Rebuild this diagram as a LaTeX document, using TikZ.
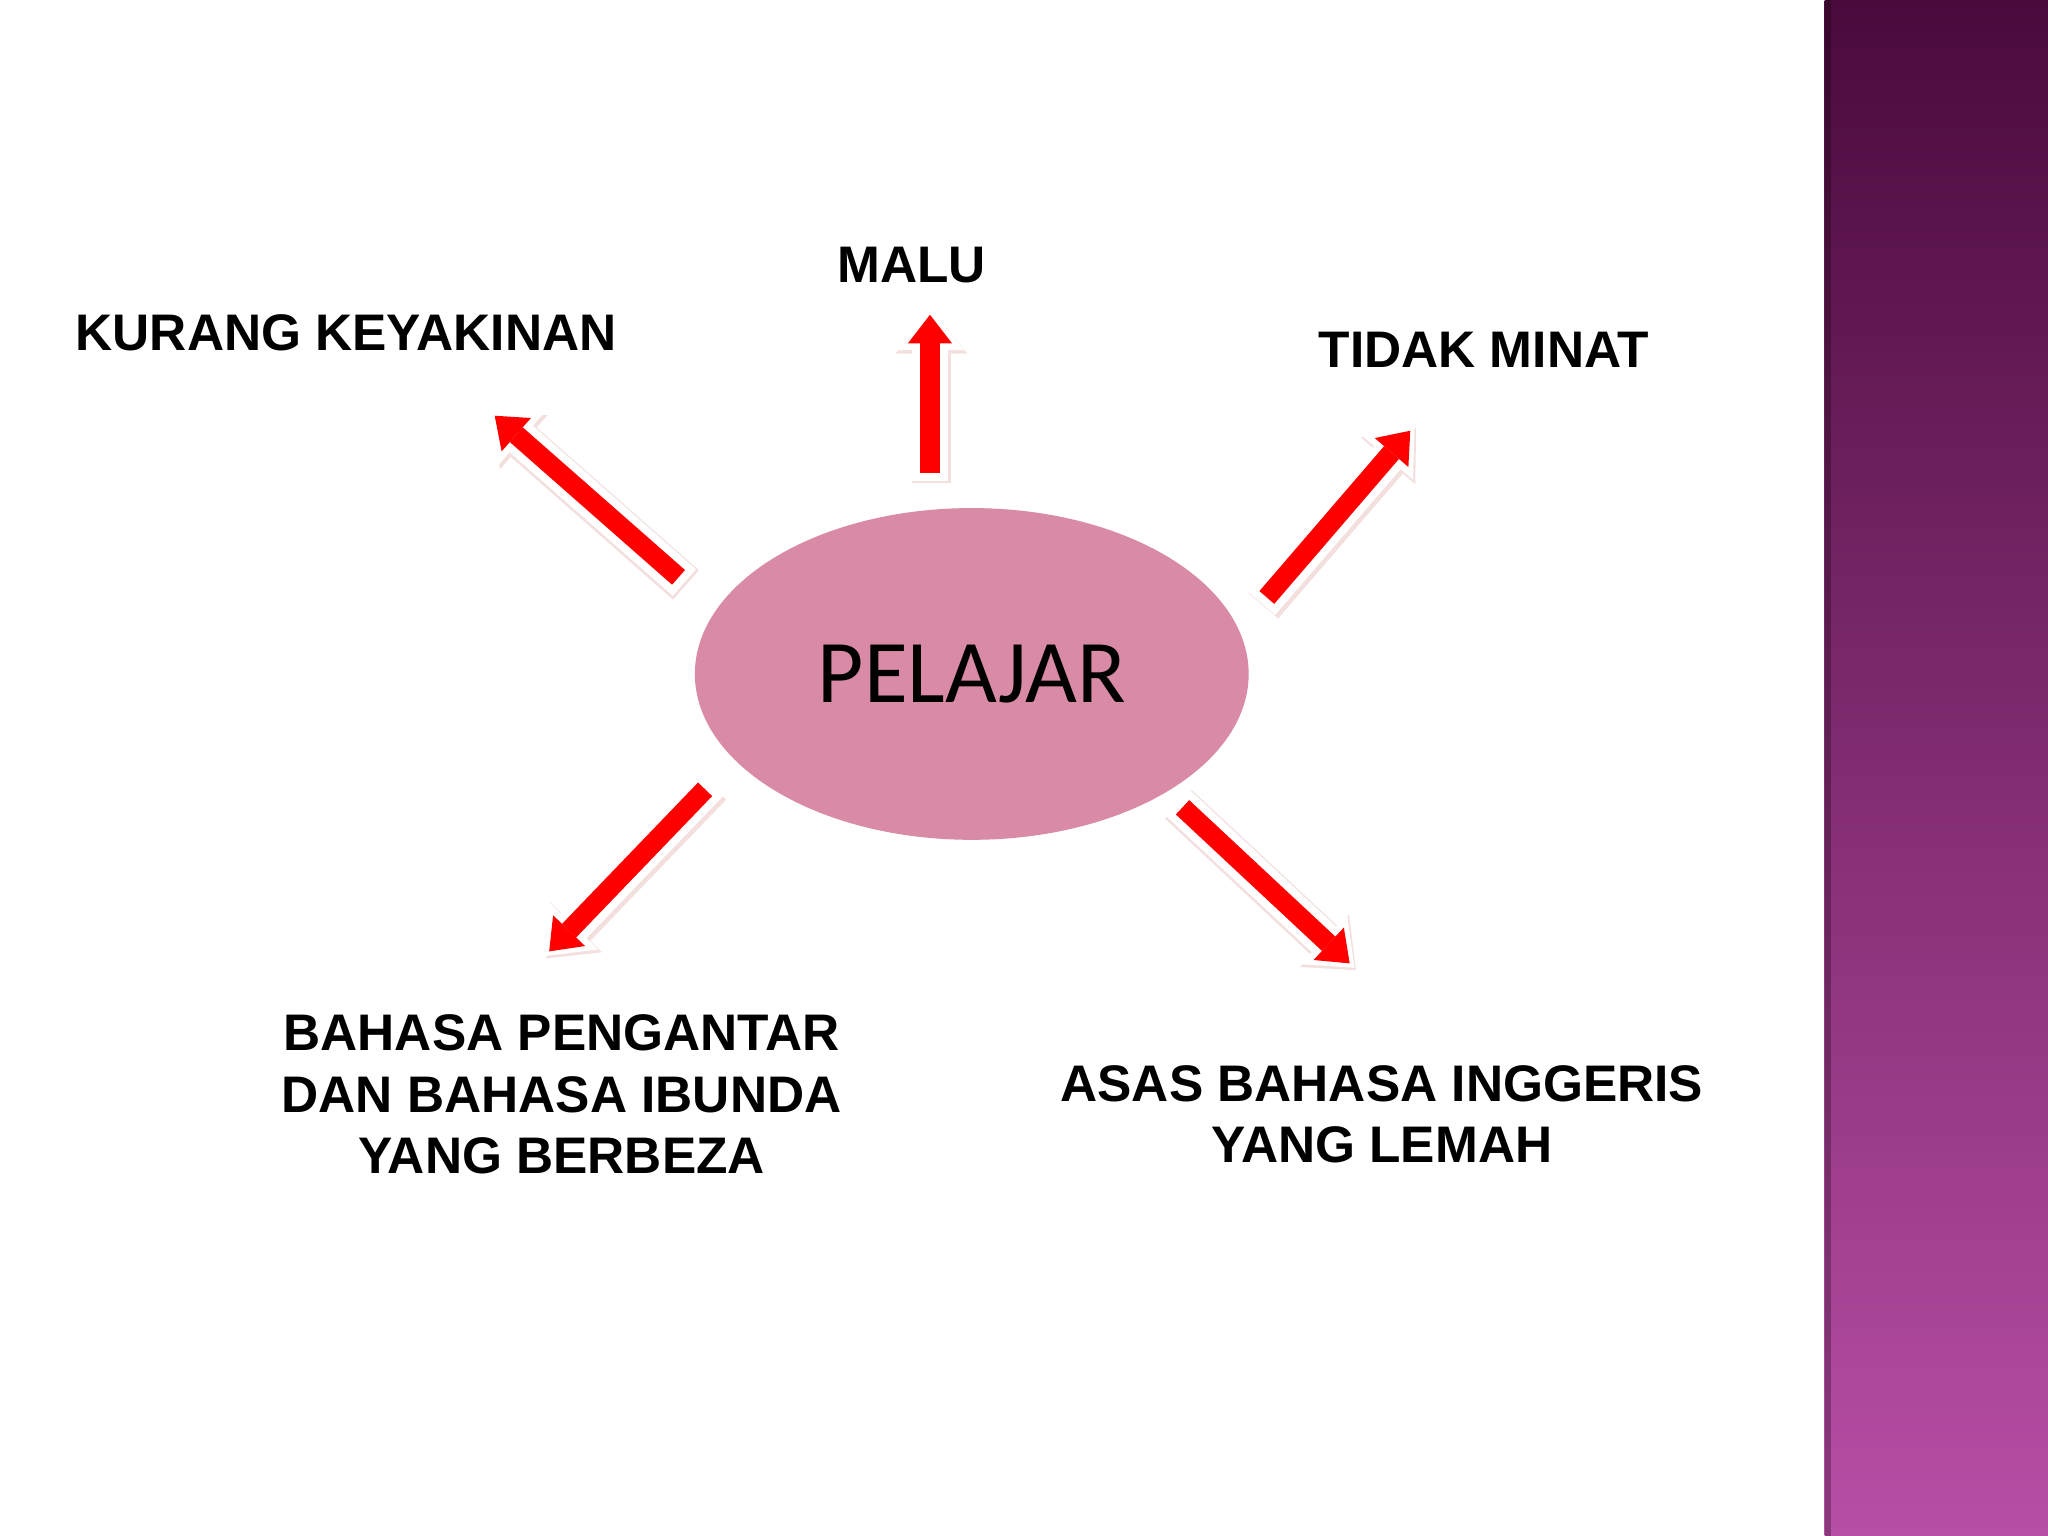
\documentclass[tikz,border=0pt]{standalone}
\usepackage{fontspec}
\setmainfont{Liberation Sans}
\newfontfamily\calibrifont{Carlito}
\usetikzlibrary{arrows.meta,shapes.geometric,positioning}

\definecolor{pelpink}{HTML}{D98AA6}
\definecolor{bartop}{HTML}{4A0A3C}
\definecolor{barbot}{HTML}{B84EA6}
\definecolor{shadowpink}{HTML}{F3E0DE}

\begin{document}
\begin{tikzpicture}[
            cause/.style={font=\fontsize{11.2}{13.4}\selectfont\bfseries,
                          align=center, inner sep=0pt},
            bigarrow/.style={draw=red, line width=0.15cm,
                          shorten <=0.06cm, shorten >=0.05cm,
                          -{Triangle[length=0.22cm,width=0.34cm,line width=0pt]},
                          preaction={draw=shadowpink, line width=0.30cm,
                              shorten <=0pt, shorten >=0pt,
                              -{Triangle[length=0.33cm,width=0.55cm,line width=0pt]},
                              transform canvas={shift={(0.012,-0.018)}}},
                          preaction={draw=white, line width=0.27cm,
                              shorten <=0pt, shorten >=0pt,
                              -{Triangle[length=0.32cm,width=0.52cm,line width=0pt]}}}]

        \useasboundingbox (0,0) rectangle (15.68,-11.76);

        % side bar
        \shade[top color=bartop, bottom color=barbot]
            (13.97,0) rectangle (15.68,-11.76);
        \fill[black, opacity=0.25] (13.97,0) rectangle (14.02,-11.76);

        % centre
        \node[ellipse, fill=pelpink, inner sep=0pt,
              minimum width=4.24cm, minimum height=2.54cm,
              font=\calibrifont\fontsize{19.5}{22}\selectfont]
              (pel) at (7.44,-5.16) {PELAJAR};

        % causes
        \node[cause] (malu)   at (6.98,-2.03)  {MALU};
        \node[cause] (kurang) at (2.65,-2.55)  {KURANG KEYAKINAN};
        \node[cause] (minat)  at (11.36,-2.68) {TIDAK MINAT};
        \node[cause] (bahasa) at (4.30,-8.38)
              {BAHASA PENGANTAR\\DAN BAHASA IBUNDA\\YANG BERBEZA};
        \node[cause] (asas)   at (10.58,-8.53)
              {ASAS BAHASA INGGERIS\\YANG LEMAH};

        % arrow ends
        \coordinate (kurang-s) at (5.24,-4.46);
        \coordinate (kurang-e) at (3.75,-3.15);
        \coordinate (malu-s)   at (7.12,-3.68);
        \coordinate (malu-e)   at (7.12,-2.36);
        \coordinate (minat-s)  at (9.66,-4.62);
        \coordinate (minat-e)  at (10.83,-3.26);
        \coordinate (bahasa-s) at (5.44,-6.00);
        \coordinate (bahasa-e) at (4.17,-7.32);
        \coordinate (asas-s)   at (9.01,-6.14);
        \coordinate (asas-e)   at (10.37,-7.41);

        \path (kurang-s) edge [bigarrow] (kurang-e)
              (malu-s)   edge [bigarrow] (malu-e)
              (minat-s)  edge [bigarrow] (minat-e)
              (bahasa-s) edge [bigarrow] (bahasa-e)
              (asas-s)   edge [bigarrow] (asas-e);

    \end{tikzpicture}
\end{document}
